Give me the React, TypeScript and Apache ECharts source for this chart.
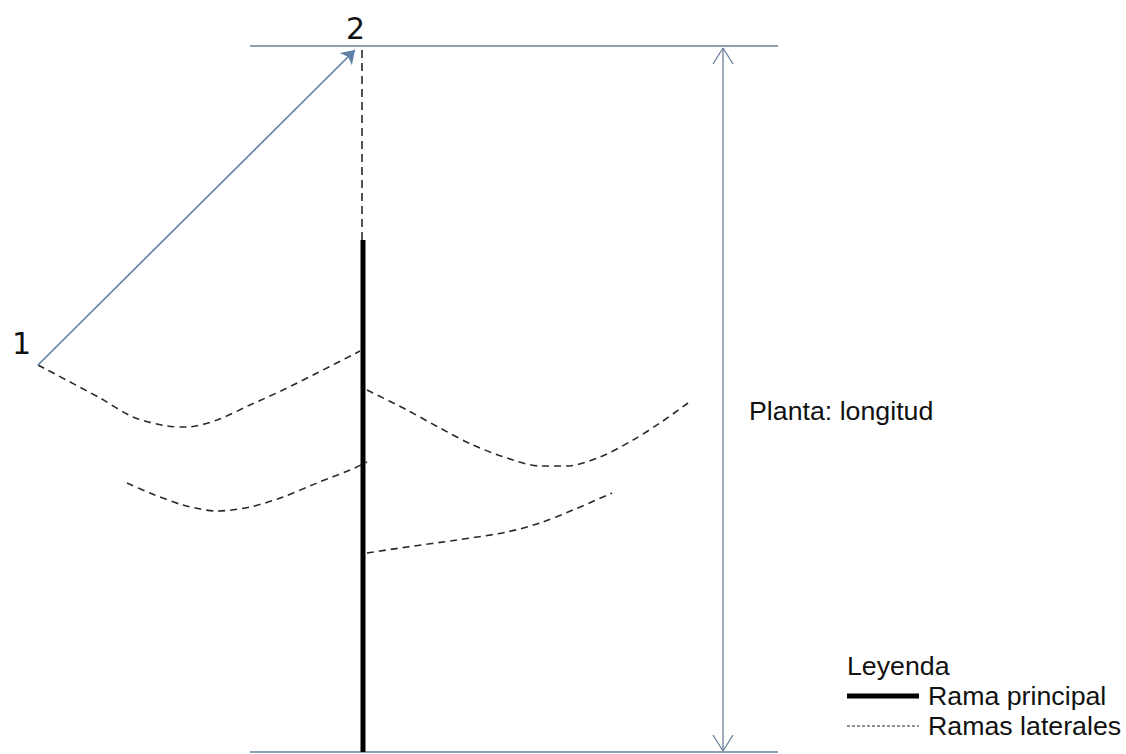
import React, { useEffect, useRef } from "react";
import * as echarts from "echarts";

// Diagram geometry in page pixel units (x right, y down)
const topLine: number[][] = [[250, 46], [778, 46]];
const bottomLine: number[][] = [[250, 752], [778, 752]];
const lengthShaft: number[][] = [[723, 48], [723, 751]];
const lengthHeadTop: number[][] = [[713, 64], [723, 48], [733, 64]];
const lengthHeadBottom: number[][] = [[713, 735], [723, 751], [733, 735]];
const growthArrow: number[][] = [[38, 365], [355, 50]];
const mainStem: number[][] = [[363, 240], [363, 752]];
const stemTopDashed: number[][] = [[362, 50], [362, 240]];
const branchA: number[][] = [
  [38, 365], [100, 398], [133, 417], [167, 426], [187, 427],
  [217, 420], [250, 405], [283, 390], [317, 373], [360, 351],
];
const branchB: number[][] = [
  [127, 483], [150, 493], [183, 505], [217, 511], [250, 507], [283, 497],
  [317, 483], [350, 470], [367, 462],
];
const branchC: number[][] = [
  [367, 390], [407, 410], [440, 428], [473, 445], [507, 458], [540, 466],
  [567, 466], [600, 457], [633, 440], [660, 423], [688, 403],
];
const branchD: number[][] = [
  [367, 553], [407, 547], [457, 540], [507, 532], [540, 523], [573, 510], [612, 493],
];

const pointLabels = ["1", "2"];
const lengthLabel = "Planta: longitud";
const legendTitle = "Leyenda";
const legendItems = ["Rama principal", "Ramas laterales"];

const BLUE = "#5f7ea8";
const GREYBLUE = "#6a7f9a";
const DASH = "#2a2a2a";
const TEXT_FONT = '25px "Liberation Sans"';
const STRETCH = 1.07;

export default function App() {
  const ref = useRef<HTMLDivElement>(null);
  useEffect(() => {
    if (!ref.current) return;
    const chart = echarts.init(ref.current, undefined, { renderer: "svg" });
    const plain = (data: number[][], color: string, width: number, extra: any = {}) => ({
      type: "line",
      data,
      symbol: "none",
      silent: true,
      lineStyle: { color, width, ...(extra.lineStyle || {}) },
      smooth: extra.smooth ?? false,
      z: extra.z ?? 2,
    });
    const dashed = (data: number[][]) =>
      plain(data, DASH, 1.6, { smooth: 0.3, lineStyle: { type: [7, 5] } });
    const label = (text: string, x: number, y: number, font: string, scaleX = STRETCH) => ({
      type: "text",
      x,
      y,
      scaleX,
      silent: true,
      style: { text, font, fill: "#111", align: "left", verticalAlign: "middle" },
    });

    chart.setOption({
      animation: false,
      backgroundColor: "#ffffff",
      grid: { left: 0, right: 0, top: 0, bottom: 0 },
      xAxis: { type: "value", min: 0, max: 1126, show: false },
      yAxis: { type: "value", min: 0, max: 754, inverse: true, show: false },
      series: [
        plain(topLine, GREYBLUE, 1.6),
        plain(bottomLine, GREYBLUE, 1.6),
        plain(lengthShaft, GREYBLUE, 1.3),
        plain(lengthHeadTop, GREYBLUE, 1.3),
        plain(lengthHeadBottom, GREYBLUE, 1.3),
        {
          type: "lines",
          coordinateSystem: "cartesian2d",
          silent: true,
          symbol: ["none", "arrow"],
          symbolSize: [0, 13],
          lineStyle: { color: BLUE, width: 1.6, opacity: 1 },
          data: [{ coords: growthArrow }],
          z: 3,
        },
        plain(stemTopDashed, DASH, 1.6, { lineStyle: { type: [8, 5] } }),
        plain(mainStem, "#000000", 5, { z: 4 }),
        dashed(branchA),
        dashed(branchB),
        dashed(branchC),
        dashed(branchD),
      ],
      graphic: [
        label(pointLabels[0], 12, 343, '30px "DejaVu Sans"', 1),
        label(pointLabels[1], 346, 28, '30px "DejaVu Sans"', 1),
        label(lengthLabel, 749, 411, TEXT_FONT),
        label(legendTitle, 847, 666, TEXT_FONT),
        {
          type: "line",
          silent: true,
          shape: { x1: 847, y1: 696, x2: 919, y2: 696 },
          style: { stroke: "#000", lineWidth: 5 },
        },
        label(legendItems[0], 928, 696, TEXT_FONT),
        {
          type: "line",
          silent: true,
          shape: { x1: 847, y1: 726, x2: 919, y2: 726 },
          style: { stroke: "#222", lineWidth: 1, lineDash: [3, 2] },
        },
        label(legendItems[1], 928, 726, TEXT_FONT),
      ],
    });
    return () => chart.dispose();
  }, []);
  return (
    <div
      ref={ref}
      style={{ position: "fixed", left: 0, top: 0, width: 1126, height: 754, background: "#fff" }}
    />
  );
}
